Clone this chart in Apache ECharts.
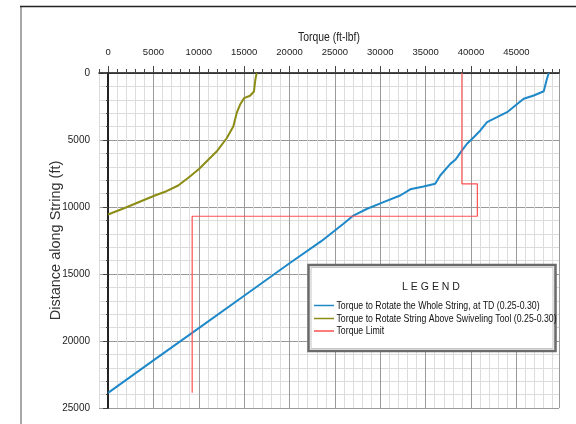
<!DOCTYPE html>
<html><head><meta charset="utf-8">
<script src="https://cdn.jsdelivr.net/npm/echarts@6/dist/echarts.min.js"></script>
<style>html,body{margin:0;padding:0;background:#fff}#c{width:576px;height:424px}</style>
</head><body><div id="c"></div>
<script>
// Data (torque ft-lbf, distance along string ft)
const seriesNames = [
  'Torque to Rotate the Whole String, at TD (0.25-0.30)',
  'Torque to Rotate String Above Swiveling Tool (0.25-0.30)',
  'Torque Limit'
];
const seriesColors = ['#1e88c8', '#8c8c14', '#ff5050'];
const wholeString = [
  [0,23870],[5000,21450],[10000,19040],[15000,16620],[20000,14200],[23500,12550],
  [25000,11750],[25940,11250],[27040,10640],[28500,10150],[30350,9640],[32200,9140],
  [33300,8680],[34770,8470],[36060,8270],[36610,7650],[37720,6780],[38270,6480],
  [39010,5780],[39560,5280],[40300,4790],[41030,4290],[41770,3670],[42870,3300],
  [43980,2925],[44890,2425],[45810,1925],[46920,1680],[48020,1360],[48320,560],[48570,0]
];
const aboveSwivel = [
  [0,10560],[2030,10015],[5155,9142],[6440,8821],[7730,8396],[9020,7720],[10050,7150],
  [10490,6850],[11960,5860],[13070,4870],[13800,3990],[14170,3000],[14540,2370],
  [14980,1880],[15640,1700],[16080,1380],[16230,510],[16380,0]
];
const torqueLimit = [
  [39000,0],[39000,8270],[40700,8270],[40700,10690],[9270,10690],[9270,23870]
];
const xMajorTicks = [0,5000,10000,15000,20000,25000,30000,35000,40000,45000];
const yMajorTicks = [0,5000,10000,15000,20000,25000];
const xTitle = 'Torque (ft-lbf)';
const yTitle = 'Distance along String (ft)';
const legendTitle = 'L E G E N D';

const SANS = '"Liberation Sans", Arial, sans-serif';
const MINOR = '#dcdcdc', MAJOR = '#9a9a9a';
const SQ = 0.76; // horizontal squeeze of the reference's text
const chart = echarts.init(document.getElementById('c'));
const xBase = {type:'value', min:-1000, max:49700, interval:1000, position:'top'};
const yBase = {type:'value', min:0, max:25000, interval:1000, inverse:true, position:'left'};

const legendRows = [305.5, 318.5, 331];
const legendGraphics = [];
seriesNames.forEach((n, i) => {
  legendGraphics.push({type:'line', z:102, shape:{x1:314, y1:legendRows[i], x2:334, y2:legendRows[i]}, style:{stroke:seriesColors[i], lineWidth:1.5}});
  legendGraphics.push({type:'text', z:102, x:336.5, y:legendRows[i], scaleX:SQ, style:{text:n, fontFamily:SANS, fontSize:11.5, fill:'#111', align:'left', verticalAlign:'middle'}});
});

chart.setOption({
  animation:false,
  grid:{left:99, right:17, top:73, bottom:16, containLabel:false},
  xAxis:[
    Object.assign({}, xBase, {
      axisLine:{show:true, lineStyle:{color:'#111', width:1.5}},
      axisTick:{show:true, length:4, lineStyle:{color:'#444'}},
      axisLabel:{show:true, interval:0, hideOverlap:false, margin:16, fontFamily:SANS, fontSize:9.5, color:'#222',
        formatter:v => (v>=0 && v%5000===0) ? String(v) : ''},
      splitLine:{show:true, lineStyle:{color:[MINOR,MAJOR,MINOR,MINOR,MINOR], width:1}}
    }),
    Object.assign({}, xBase, {
      axisLine:{show:false},
      axisTick:{show:true, length:7, customValues:xMajorTicks, lineStyle:{color:'#444'}},
      axisLabel:{show:false}, splitLine:{show:false}
    })
  ],
  yAxis:[
    Object.assign({}, yBase, {
      name:yTitle, nameLocation:'middle', nameGap:36, nameMoveOverlap:false,
      nameTextStyle:{fontFamily:SANS, fontSize:14.5, color:'#333'},
      axisLine:{show:true, lineStyle:{color:'#222', width:2}},
      axisTick:{show:true, length:2, lineStyle:{color:'#444'}},
      axisLabel:{show:true, interval:0, hideOverlap:false, margin:9, fontFamily:SANS, fontSize:10, color:'#222',
        formatter:v => (v%5000===0) ? String(v) : ''},
      splitLine:{show:true, lineStyle:{color:[MAJOR,MINOR,MINOR,MINOR,MINOR], width:1}}
    }),
    Object.assign({}, yBase, {
      axisLine:{show:false},
      axisTick:{show:true, length:5, customValues:yMajorTicks, lineStyle:{color:'#444'}},
      axisLabel:{show:false}, splitLine:{show:false}
    })
  ],
  legend:{show:false, data:seriesNames},
  graphic:[
    {type:'line', shape:{x1:21, y1:6, x2:21, y2:424}, style:{stroke:'#a8a8a8', lineWidth:2}},
    {type:'line', shape:{x1:20, y1:6.5, x2:576, y2:6.5}, style:{stroke:'#222', lineWidth:1.5}},
    {type:'text', x:329, y:37, scaleX:0.8, style:{text:xTitle, fontFamily:SANS, fontSize:13, fill:'#222', align:'center', verticalAlign:'middle'}},
    {type:'rect', z:100, shape:{x:308.5, y:265, width:247, height:86}, style:{fill:'#fff', stroke:'#6a6a6a', lineWidth:2.5}},
    {type:'rect', z:101, shape:{x:311, y:267.5, width:242, height:81}, style:{fill:'none', stroke:'#c4c4c4', lineWidth:1}},
    {type:'text', z:102, x:431, y:287, style:{text:legendTitle, fontFamily:SANS, fontSize:10.5, fill:'#222', align:'center', verticalAlign:'middle'}}
  ].concat(legendGraphics),
  series:[
    {name:seriesNames[0], type:'line', data:wholeString, showSymbol:false, lineStyle:{color:seriesColors[0], width:2}, itemStyle:{color:seriesColors[0]}},
    {name:seriesNames[1], type:'line', data:aboveSwivel, showSymbol:false, lineStyle:{color:seriesColors[1], width:2}, itemStyle:{color:seriesColors[1]}},
    {name:seriesNames[2], type:'line', data:torqueLimit, showSymbol:false, lineStyle:{color:seriesColors[2], width:1.2}, itemStyle:{color:seriesColors[2]}}
  ]
});
</script></body></html>
